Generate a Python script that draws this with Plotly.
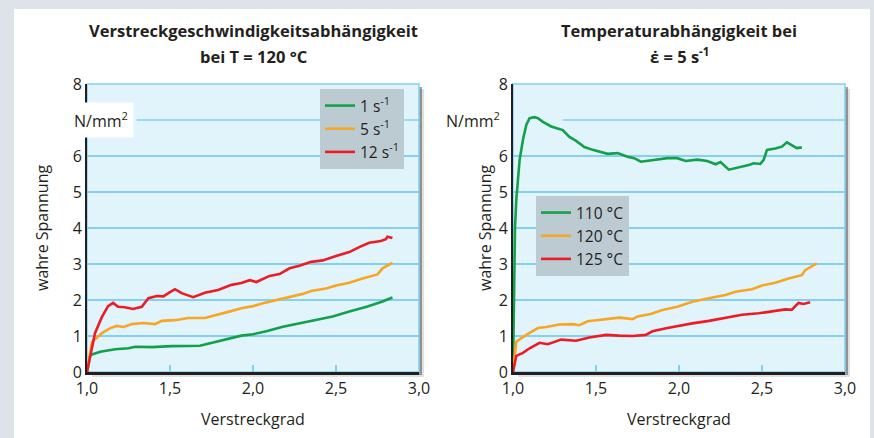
import plotly.graph_objects as go

# ---------------- data ----------------
x_ticks = [1.0, 1.5, 2.0, 2.5, 3.0]
y_tick_vals = [0, 1, 2, 3, 4, 5, 6, 8]
y_tick_labels = ["0", "1", "2", "3", "4", "5", "6", "8"]

# Left panel: strain-rate dependence at T = 120 °C
rate_names = ["1 s<sup>-1</sup>", "5 s<sup>-1</sup>", "12 s<sup>-1</sup>"]

r1_x = [1.0, 1.02, 1.08, 1.17, 1.25, 1.29, 1.39, 1.51, 1.68, 1.75, 1.83, 1.93, 2.0,
        2.08, 2.18, 2.28, 2.38, 2.48, 2.58, 2.69, 2.78, 2.84]
r1_y = [0.0, 0.47, 0.56, 0.63, 0.66, 0.70, 0.69, 0.72, 0.73, 0.81, 0.91, 1.01, 1.05,
        1.13, 1.26, 1.35, 1.45, 1.54, 1.68, 1.82, 1.96, 2.07]

r5_x = [1.0, 1.03, 1.09, 1.14, 1.18, 1.22, 1.27, 1.34, 1.41, 1.45, 1.53, 1.61, 1.71,
        1.77, 1.85, 1.93, 2.0, 2.06, 2.14, 2.22, 2.30, 2.35, 2.44, 2.50, 2.58, 2.66,
        2.75, 2.78, 2.84]
r5_y = [0.0, 0.83, 1.08, 1.22, 1.28, 1.25, 1.33, 1.36, 1.33, 1.42, 1.44, 1.50, 1.50,
        1.58, 1.67, 1.77, 1.83, 1.91, 2.00, 2.08, 2.17, 2.25, 2.32, 2.40, 2.48, 2.60,
        2.71, 2.88, 3.03]

r12_x = [1.0, 1.048, 1.09, 1.127, 1.157, 1.187, 1.229, 1.277, 1.33, 1.37, 1.42, 1.46,
         1.50, 1.53, 1.57, 1.64, 1.71, 1.79, 1.87, 1.93, 1.98, 2.02, 2.10, 2.16, 2.22,
         2.28, 2.35, 2.42, 2.50, 2.58, 2.64, 2.70, 2.77, 2.80, 2.81, 2.84]
r12_y = [0.0, 1.08, 1.53, 1.83, 1.92, 1.81, 1.80, 1.75, 1.81, 2.05, 2.11, 2.10,
         2.22, 2.30, 2.19, 2.08, 2.20, 2.28, 2.42, 2.47, 2.55, 2.50, 2.67, 2.72, 2.88,
         2.95, 3.06, 3.10, 3.22, 3.33, 3.47, 3.59, 3.64, 3.69, 3.76, 3.72]

# Right panel: temperature dependence at strain rate 5 1/s
temp_names = ["110 °C", "120 °C", "125 °C"]

t110_x = [1.0, 1.005, 1.012, 1.02, 1.04, 1.06, 1.08, 1.10, 1.13, 1.15, 1.18, 1.23,
          1.30, 1.34, 1.38, 1.43, 1.48, 1.57, 1.63, 1.69, 1.73, 1.77, 1.84, 1.93,
          1.99, 2.04, 2.11, 2.17, 2.22, 2.25, 2.30, 2.36, 2.42, 2.45, 2.49, 2.51,
          2.53, 2.58, 2.62, 2.65, 2.68, 2.71, 2.74]
t110_y = [0.0, 2.0, 4.0, 4.8, 5.9, 6.45, 6.86, 7.05, 7.08, 7.05, 6.95, 6.82,
          6.72, 6.53, 6.42, 6.25, 6.17, 6.06, 6.08, 5.98, 5.94, 5.84, 5.88, 5.94,
          5.94, 5.86, 5.90, 5.86, 5.77, 5.83, 5.62, 5.68, 5.75, 5.80, 5.78, 5.89,
          6.17, 6.21, 6.26, 6.38, 6.31, 6.22, 6.24]

t120_x = [1.0, 1.02, 1.08, 1.15, 1.20, 1.28, 1.36, 1.40, 1.45, 1.54, 1.64, 1.72,
          1.75, 1.83, 1.90, 1.99, 2.08, 2.18, 2.28, 2.34, 2.44, 2.50, 2.58, 2.66,
          2.74, 2.76, 2.83]
t120_y = [0.0, 0.84, 1.03, 1.22, 1.25, 1.32, 1.33, 1.30, 1.41, 1.46, 1.51, 1.47,
          1.54, 1.61, 1.72, 1.81, 1.95, 2.05, 2.14, 2.23, 2.30, 2.40, 2.48, 2.60,
          2.69, 2.83, 3.02]

t125_x = [1.0, 1.02, 1.06, 1.10, 1.16, 1.21, 1.29, 1.38, 1.46, 1.56, 1.64, 1.72,
          1.80, 1.84, 1.93, 1.99, 2.08, 2.18, 2.28, 2.38, 2.48, 2.58, 2.64, 2.68,
          2.72, 2.75, 2.79]
t125_y = [0.0, 0.45, 0.53, 0.66, 0.81, 0.77, 0.90, 0.87, 0.96, 1.03, 1.01, 1.00,
          1.03, 1.13, 1.22, 1.28, 1.35, 1.42, 1.50, 1.59, 1.63, 1.70, 1.74, 1.73,
          1.92, 1.89, 1.94]

colors = ["#12a14b", "#f6a623", "#ec1c24"]

# ---------------- layout constants ----------------
W, H = 874, 438
FONT = "Open Sans, Noto Sans, DejaVu Sans, sans-serif"
TXT = "#231f20"
GRID = "#84d0ef"
PLOTBG = "#e1f3fb"
FRAME = "#dde3e8"

def px_x(p):
    return p / W

def px_y(p):
    return 1 - p / H

panels = [
    dict(x0=87, x1=419),
    dict(x0=513, x1=845),
]
PT, PB = 84, 372

fig = go.Figure()

series_left = [(r1_x, r1_y), (r5_x, r5_y), (r12_x, r12_y)]
series_right = [(t110_x, t110_y), (t120_x, t120_y), (t125_x, t125_y)]

for i, (xs, ys) in enumerate(series_left):
    fig.add_trace(go.Scatter(x=xs, y=ys, mode="lines", name=rate_names[i],
                             line=dict(color=colors[i], width=2.6),
                             xaxis="x", yaxis="y", legend="legend"))
for i, (xs, ys) in enumerate(series_right):
    fig.add_trace(go.Scatter(x=xs, y=ys, mode="lines", name=temp_names[i],
                             line=dict(color=colors[i], width=2.6),
                             xaxis="x2", yaxis="y2", legend="legend2"))

shapes = []
# white sheet over grey frame
shapes.append(dict(type="rect", xref="paper", yref="paper", layer="below",
                   x0=px_x(14), x1=px_x(870), y0=px_y(440), y1=px_y(9),
                   fillcolor="white", line=dict(width=0)))
for p in panels:
    for off, col in [(5, "rgba(0,0,0,0.12)"), (3, "rgba(0,0,0,0.35)")]:
        shapes.append(dict(type="rect", xref="paper", yref="paper", layer="below",
                           x0=px_x(p["x0"] + off), x1=px_x(p["x1"] + off),
                           y0=px_y(PB + off), y1=px_y(PT + off),
                           fillcolor=col, line=dict(width=0)))
    shapes.append(dict(type="rect", xref="paper", yref="paper", layer="below",
                       x0=px_x(p["x0"]), x1=px_x(p["x1"]),
                       y0=px_y(PB), y1=px_y(PT),
                       fillcolor=PLOTBG, line=dict(color=GRID, width=1.5)))
# gridline at 7 (partial, label sits in front of it)
for xr, yr in [("x", "y"), ("x2", "y2")]:
    shapes.append(dict(type="line", xref=xr, yref=yr, layer="below",
                       x0=1.3, x1=3.0, y0=7, y1=7,
                       line=dict(color=GRID, width=1.5)))

axis_common = dict(range=[1, 3], tickvals=x_ticks, tickformat=".1f",
                   showgrid=False, zeroline=False, showline=True, automargin=False,
                   linecolor=TXT, linewidth=2.5, ticks="inside", ticklen=7,
                   tickwidth=1.5, tickcolor=GRID,
                   tickfont=dict(family=FONT, size=16, color=TXT))
yaxis_common = dict(range=[0, 8], tickvals=y_tick_vals, ticktext=y_tick_labels,
                    showgrid=True, gridcolor=GRID, gridwidth=1.5, automargin=False,
                    zeroline=False, showline=True, linecolor=TXT, linewidth=2,
                    ticks="", tickfont=dict(family=FONT, size=16, color=TXT))

fig.update_layout(
    width=W, height=H, autosize=False,
    margin=dict(l=0, r=0, t=0, b=0, autoexpand=False),
    paper_bgcolor=FRAME,
    plot_bgcolor="rgba(0,0,0,0)",
    separators=", ",
    font=dict(family=FONT, color=TXT, size=16),
    shapes=shapes,
    xaxis=dict(domain=[px_x(87), px_x(419)], anchor="y", **axis_common),
    yaxis=dict(domain=[px_y(PB), px_y(PT)], anchor="x", **yaxis_common),
    xaxis2=dict(domain=[px_x(513), px_x(845)], anchor="y2", **axis_common),
    yaxis2=dict(domain=[px_y(PB), px_y(PT)], anchor="x2", **yaxis_common),
    legend=dict(x=px_x(320), y=px_y(89), xanchor="left", yanchor="top",
                bgcolor="#bccad2", borderwidth=0, tracegroupgap=0,
                font=dict(family=FONT, size=15.5, color=TXT)),
    legend2=dict(x=px_x(536), y=px_y(196), xanchor="left", yanchor="top",
                 bgcolor="#bccad2", borderwidth=0, tracegroupgap=0,
                 font=dict(family=FONT, size=15.5, color=TXT)),
    showlegend=True,
)

ann = []
# titles
ann.append(dict(text="<b>Verstreckgeschwindigkeitsabhängigkeit</b>", x=px_x(253), y=px_y(30)))
ann.append(dict(text="<b>bei T = 120 °C</b>", x=px_x(253), y=px_y(57)))
ann.append(dict(text="<b>Temperaturabhängigkeit bei</b>", x=px_x(679), y=px_y(30)))
ann.append(dict(text="<b>ε̇ = 5 s<sup>-1</sup></b>", x=px_x(679), y=px_y(56)))
for a in ann:
    a.update(xref="paper", yref="paper", showarrow=False, xanchor="center",
             yanchor="middle", font=dict(family=FONT, size=16.5, color=TXT))
# axis titles
for cx, yx in [(253, 42), (679, 485)]:
    ann.append(dict(text="Verstreckgrad", x=px_x(cx), y=px_y(419), xref="paper",
                    yref="paper", showarrow=False, xanchor="center", yanchor="middle",
                    font=dict(family=FONT, size=16, color=TXT)))
    ann.append(dict(text="wahre Spannung", x=px_x(yx), y=px_y(228), xref="paper",
                    yref="paper", showarrow=False, xanchor="center", yanchor="middle",
                    textangle=-90, font=dict(family=FONT, size=16, color=TXT)))
# unit labels
ann.append(dict(text="N/mm<sup>2</sup>", x=px_x(134), y=7, xref="paper", yref="y",
                showarrow=False, xanchor="right", yanchor="middle", bgcolor="white",
                borderpad=5, font=dict(family=FONT, size=16, color=TXT)))
ann.append(dict(text="N/mm<sup>2</sup>", x=px_x(502), y=7, xref="paper", yref="y2",
                showarrow=False, xanchor="right", yanchor="middle",
                font=dict(family=FONT, size=16, color=TXT)))
fig.update_layout(annotations=ann)

fig.write_html(
    "out.html",
    config={"displayModeBar": False, "staticPlot": True},
    post_script=(
        "document.documentElement.style.margin='0';"
        "document.body.style.margin='0';document.body.style.padding='0';"
        "document.body.style.background='" + FRAME + "';"
    ),
)
